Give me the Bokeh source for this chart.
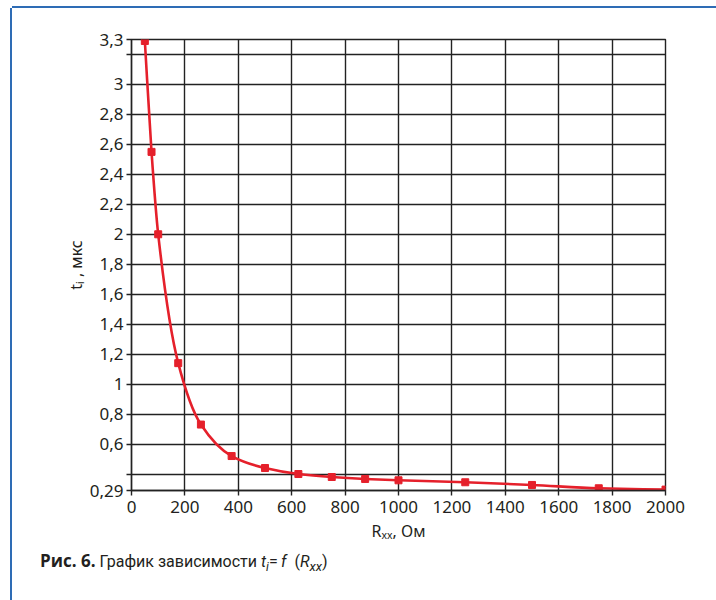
from bokeh.plotting import figure
from bokeh.layouts import column
from bokeh.models import FixedTicker, Div
from bokeh.embed import file_html
from bokeh.resources import INLINE

# ---- data ----
r_ohm = [50, 75, 100, 175, 260, 375, 500, 625, 750, 875, 1000, 1250, 1500, 1750, 2000]
t_us = [3.29, 2.55, 2.00, 1.14, 0.73, 0.52, 0.44, 0.40, 0.38, 0.367, 0.358, 0.345, 0.327, 0.305, 0.296]

x_ticks = [0, 200, 400, 600, 800, 1000, 1200, 1400, 1600, 1800, 2000]
y_ticks = [0.29, 0.4, 0.6, 0.8, 1.0, 1.2, 1.4, 1.6, 1.8, 2.0, 2.2, 2.4, 2.6, 2.8, 3.0, 3.2, 3.3]
y_tick_labels = ["0,29", "", "0,6", "0,8", "1", "1,2", "1,4", "1,6", "1,8", "2",
                 "2,2", "2,4", "2,6", "2,8", "3", "", "3,3"]
x_title = "Rₓₓ, Ом"
y_title = "tᵢ , мкс"
caption_html = ('<span style="font-family:\'Open Sans\';font-weight:bold;font-size:17px">Рис. 6.</span>'
                ' График зависимости <i>t<sub style="font-size:12px">i</sub></i>=&thinsp;<i>f</i>'
                '&ensp;(<i>R<sub style="font-size:13px">xx</sub></i>)')

RED = "#e5202b"
GRID = "#222222"
TXT = "#231f20"
BLUE = "#2e6cb5"
FONT = "Noto Sans"

p = figure(width=699, height=537, output_backend="svg", toolbar_location=None,
           x_range=(0, 2000), y_range=(0.29, 3.3),
           min_border_left=119, min_border_right=46, min_border_top=31, min_border_bottom=55)
p.background_fill_color = "white"
p.border_fill_color = "white"
p.outline_line_color = GRID
p.outline_line_width = 1.4

p.xaxis.ticker = FixedTicker(ticks=x_ticks)
p.yaxis.ticker = FixedTicker(ticks=y_ticks)
p.yaxis.major_label_overrides = {t: l for t, l in zip(y_ticks, y_tick_labels)}
for ax in (p.xaxis, p.yaxis):
    ax.axis_line_color = GRID
    ax.axis_line_width = 1.4
    ax.major_tick_line_color = GRID
    ax.major_tick_line_width = 1.4
    ax.major_tick_out = 5
    ax.major_tick_in = 0
    ax.minor_tick_line_color = None
    ax.major_label_text_font = FONT
    ax.major_label_text_font_size = "17px"
    ax.major_label_text_color = TXT
    ax.axis_label_text_font = FONT
    ax.axis_label_text_font_size = "16px"
    ax.axis_label_text_font_style = "normal"
    ax.axis_label_text_color = TXT
p.xaxis.axis_label_standoff = 4
p.yaxis.axis_label_standoff = 0
p.xaxis.major_label_standoff = 5
p.yaxis.major_label_standoff = 3
p.xaxis.axis_label = x_title
p.yaxis.axis_label = y_title

for g in (p.xgrid, p.ygrid):
    g.grid_line_color = GRID
    g.grid_line_width = 1.4
p.xgrid.ticker = FixedTicker(ticks=x_ticks)
p.ygrid.ticker = FixedTicker(ticks=y_ticks)

# smooth monotone curve through the measured points (cubic Bezier segments)
n = len(r_ohm)
h = [r_ohm[k + 1] - r_ohm[k] for k in range(n - 1)]
d = [(t_us[k + 1] - t_us[k]) / h[k] for k in range(n - 1)]
m = [0.0] * n
m[0] = d[0]
m[-1] = d[-1]
for k in range(1, n - 1):
    if d[k - 1] * d[k] <= 0:
        m[k] = 0.0
    else:
        w1 = 2 * h[k] + h[k - 1]
        w2 = h[k] + 2 * h[k - 1]
        m[k] = (w1 + w2) / (w1 / d[k - 1] + w2 / d[k])
x0 = r_ohm[:-1]; y0 = t_us[:-1]; x1 = r_ohm[1:]; y1 = t_us[1:]
cx0 = [r_ohm[k] + h[k] / 3 for k in range(n - 1)]
cy0 = [t_us[k] + m[k] * h[k] / 3 for k in range(n - 1)]
cx1 = [r_ohm[k + 1] - h[k] / 3 for k in range(n - 1)]
cy1 = [t_us[k + 1] - m[k + 1] * h[k] / 3 for k in range(n - 1)]
p.bezier(x0=x0, y0=y0, x1=x1, y1=y1, cx0=cx0, cy0=cy0, cx1=cx1, cy1=cy1,
         line_color=RED, line_width=2.6)
p.scatter(r_ohm, t_us, marker="square", size=7, fill_color=RED, line_color=RED)

# ---- caption ----
cap = Div(text=caption_html, width=699, height=55,
          styles={"font-family": "Roboto", "font-size": "16px", "color": TXT,
                  "line-height": "22px", "padding-left": "23px", "padding-top": "0px",
                  "background-color": "white", "box-sizing": "border-box"})

layout = column(p, cap, spacing=0)
layout.styles = {"box-shadow": f"-2px 0 0 0 {BLUE}, 2px 0 0 0 {BLUE}, 0 -2px 0 0 {BLUE}",
                 "margin-left": "12px", "margin-top": "8px"}

open("out.html", "w").write(file_html(layout, INLINE))
